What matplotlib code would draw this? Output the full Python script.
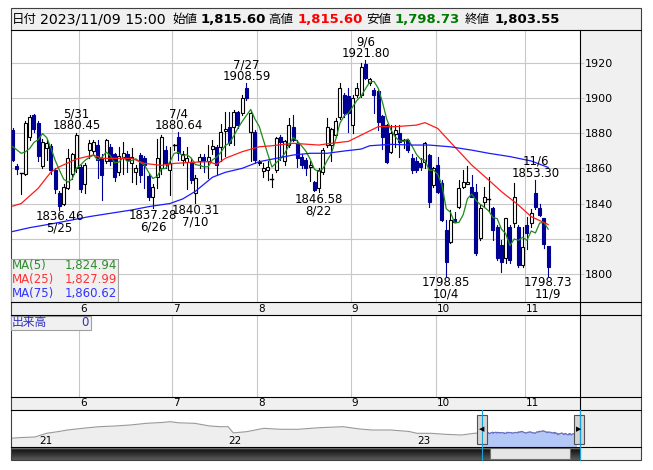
import numpy as np
import pandas as pd
import matplotlib
matplotlib.use("Agg")
import matplotlib.pyplot as plt
from matplotlib.patches import Rectangle

plt.rcParams['font.family'] = ['DejaVu Sans', 'Noto Sans CJK JP']

W, H = 653, 470

# trading days shown in the window (Tokyo calendar)
holidays = ['2023-07-17', '2023-08-11', '2023-09-18', '2023-10-09', '2023-11-03']
dates = pd.bdate_range('2023-05-10', '2023-11-09', freq='C', holidays=holidays)

opens = [1882, 1861.5, 1857, 1857, 1878, 1890.5, 1886, 1861.5, 1871.5, 1873,
         1859, 1846, 1840, 1849, 1857, 1860, 1861, 1851, 1870.5, 1870,
         1873.5, 1866, 1864, 1872, 1868, 1858, 1866.7, 1868, 1862.9, 1858,
         1867.7, 1865.8, 1855.5, 1843.9, 1855, 1860, 1870.5, 1859, 1873, 1878.2,
         1865, 1863.5, 1863.9, 1846, 1864, 1866.7, 1864, 1871, 1872.4, 1872.4,
         1881.6, 1883.9, 1883.9, 1892.5, 1891.5, 1905.8, 1881, 1881, 1863.3, 1858.5,
         1859, 1853.4, 1859.3, 1878.2, 1864, 1873.4, 1883.9, 1874.4, 1866.8, 1865,
         1861, 1852.4, 1848.7, 1858.1, 1873.4, 1873.7, 1879.4, 1889.6, 1902, 1901.3,
         1884.9, 1902, 1902, 1919.5, 1908.7, 1904.8, 1904, 1890, 1884.8, 1869.6,
         1879.5, 1880, 1876.3, 1876.3, 1865.8, 1864, 1863, 1863.9, 1867.7, 1850.6,
         1862, 1851.5, 1824.9, 1818.2, 1831, 1838.2, 1849.6, 1851, 1849.6, 1846.8,
         1820.1, 1841, 1842, 1837.2, 1826.7, 1816.2, 1808.7, 1826.7, 1828.7, 1826.7,
         1804.9, 1827.7, 1829, 1845.8, 1837.2, 1831.5, 1815.6]
highs = [1883, 1862.5, 1857.5, 1887, 1890.3, 1891, 1887, 1877, 1876.3, 1874,
         1860, 1847, 1851, 1871, 1869, 1880.45, 1862, 1863, 1876, 1876.5,
         1876.3, 1868, 1877, 1874, 1869, 1872, 1875, 1870, 1871.5, 1862,
         1869, 1867, 1857, 1851, 1877, 1879, 1873, 1872, 1874, 1880.64,
         1870, 1872, 1866, 1856.3, 1868.5, 1868, 1873.5, 1876, 1873.4, 1885.7,
         1892, 1892.5, 1893.5, 1893, 1902, 1908.59, 1893, 1882, 1865, 1863,
         1864, 1857, 1878, 1879, 1876, 1888.6, 1890.5, 1876, 1868, 1866,
         1864, 1853, 1860, 1871.5, 1888.6, 1883, 1889, 1909, 1903, 1905.8,
         1901.9, 1908.7, 1920, 1921.8, 1911.5, 1905.8, 1905, 1890.5, 1885.7, 1884.8,
         1884.8, 1884.8, 1877, 1877, 1868, 1866.7, 1865.8, 1875.3, 1868.5, 1861,
         1866.7, 1853.4, 1830.6, 1836.3, 1835, 1853.4, 1859, 1861.5, 1856, 1851,
         1839, 1849.6, 1855.3, 1838, 1828, 1819, 1831.5, 1827.5, 1851.5, 1827.5,
         1826.7, 1832.5, 1837, 1853.3, 1840, 1832, 1815.6]
lows = [1864, 1857, 1845.3, 1856, 1876, 1881, 1864.5, 1860, 1864.9, 1857,
        1846, 1836.46, 1839, 1848, 1854, 1858, 1846.8, 1846, 1866, 1868,
        1854.4, 1842, 1863, 1862, 1853, 1856, 1857, 1858, 1852.5, 1851,
        1852, 1848.6, 1842, 1837.28, 1849, 1857, 1860, 1845, 1870.5, 1865,
        1862, 1848, 1851.5, 1840.31, 1860, 1858, 1854.5, 1868, 1856.7, 1864,
        1867, 1873.4, 1873.4, 1883, 1890.5, 1899, 1864, 1863, 1862, 1855,
        1853.6, 1849.5, 1858, 1865, 1862, 1872.5, 1875.5, 1861, 1860, 1856,
        1853, 1847, 1846.58, 1857, 1872.4, 1864, 1878, 1888.5, 1889.6, 1881,
        1880, 1900.9, 1901, 1911, 1907.5, 1891.5, 1882, 1871, 1863, 1868.8,
        1872, 1866.5, 1871.5, 1869.5, 1857.2, 1858.2, 1859.1, 1860.1, 1838.2, 1849.6,
        1845.8, 1830, 1798.85, 1817.2, 1829.5, 1837.2, 1848.7, 1851, 1843.9, 1810.5,
        1819.2, 1838.2, 1835.5, 1819, 1807.5, 1800.9, 1805.8, 1806, 1826.7, 1803.8,
        1803.8, 1814, 1826.7, 1837, 1833, 1814.4, 1798.73]
closes = [1865, 1859.5, 1857.3, 1886, 1889.3, 1882.5, 1867, 1875, 1874.4, 1859,
          1848, 1838.5, 1849.5, 1866, 1868, 1879, 1848, 1862, 1874.5, 1875,
          1865, 1856, 1876.3, 1864, 1855, 1867, 1869, 1865, 1866.8, 1860,
          1856.3, 1862, 1843.5, 1849.6, 1866, 1878, 1863, 1863, 1873.3, 1868.7,
          1868.5, 1866, 1853.4, 1854.4, 1866.7, 1864, 1866.7, 1873, 1862, 1881,
          1882.7, 1874.4, 1892.5, 1884.8, 1900, 1900, 1891.5, 1865, 1863.9, 1860.5,
          1861, 1853.8, 1877.2, 1875.3, 1875.5, 1884.8, 1876.3, 1865.8, 1862, 1860.3,
          1862, 1847.7, 1859.1, 1870.5, 1883.9, 1882.3, 1887, 1905.8, 1891.5, 1891.8,
          1900, 1905.8, 1918.2, 1911.9, 1910.9, 1902, 1886.5, 1878, 1863.9, 1880,
          1881.9, 1875.3, 1876.5, 1870.6, 1859.1, 1859.1, 1861, 1874.4, 1841, 1860.1,
          1846.8, 1830.6, 1806.8, 1830.6, 1829.5, 1848.7, 1852.4, 1852.5, 1843.9, 1811.5,
          1837.2, 1843.9, 1842.3, 1824.9, 1808.6, 1806.8, 1831.5, 1807.7, 1843.9, 1804.9,
          1815.3, 1823, 1834.4, 1838.2, 1833.4, 1817, 1803.55]
# closes of the four sessions before the window (needed for MA(5))
pre_closes = [1869, 1867, 1881.5, 1880]

# MA(25) and MA(75) at sample sessions
ma25_idx = [0, 2, 6, 9, 11, 15, 19, 21, 24, 28, 31, 35, 38, 42, 46, 48, 50, 54, 58,
            61, 66, 72, 75, 79, 82, 86, 90, 95, 97, 100, 104, 108, 112, 115, 119, 122, 126]
ma25_val = [1838.5, 1840.0, 1848.7, 1858.0, 1861.0, 1865.4, 1867.7, 1865.8, 1865.8, 1865.8,
            1862.9, 1861.8, 1862.9, 1863.5, 1863.9, 1862.4, 1865.8, 1869.6, 1872.4,
            1873.0, 1874.4, 1873.4, 1874.4, 1875.5, 1879.1, 1883.9, 1883.9, 1884.8, 1886.2,
            1882.9, 1872.4, 1862.0, 1853.4, 1846.8, 1839.1, 1832.5, 1827.99]
ma75_idx = [0, 4, 9, 14, 18, 23, 28, 32, 37, 40, 43, 47, 50, 54, 58, 62, 66, 70, 74,
            78, 82, 84, 89, 94, 98, 103, 108, 112, 117, 122, 126]
ma75_val = [1824.0, 1826.2, 1828.3, 1830.6, 1832.5, 1834.4, 1836.3, 1838.2, 1840.0, 1842.6,
            1847.0, 1855.0, 1857.8, 1860.1, 1863.9, 1865.8, 1867.7, 1868.7, 1868.7,
            1870.0, 1871.1, 1873.0, 1873.8, 1873.4, 1873.4, 1872.4, 1870.5, 1868.7, 1866.8,
            1864.3, 1860.62]

# peak / trough markers
mark_dates = ['2023-05-25', '2023-05-31', '2023-06-26', '2023-07-04', '2023-07-10', '2023-07-27',
              '2023-08-22', '2023-09-06', '2023-10-04', '2023-11-06', '2023-11-09']
mark_vals = [1836.46, 1880.45, 1837.28, 1880.64, 1840.31, 1908.59,
             1846.58, 1921.80, 1798.85, 1853.30, 1798.73]
mark_kind = ['low', 'high', 'low', 'high', 'low', 'high', 'low', 'high', 'low', 'high', 'low']

# long-range line in the navigator (samples before the window)
nav_dates = ['2020-11-10', '2020-12-01', '2020-12-28', '2021-01-20', '2021-02-10', '2021-03-01',
             '2021-04-01', '2021-05-01', '2021-06-01', '2021-07-01', '2021-08-01', '2021-09-01',
             '2021-09-15', '2021-10-01', '2021-11-01', '2021-12-01', '2021-12-20', '2022-01-05',
             '2022-01-15', '2022-02-10', '2022-03-15', '2022-04-15', '2022-05-20', '2022-07-01',
             '2022-08-15', '2022-09-15', '2022-10-10', '2022-11-15', '2022-12-20', '2023-01-05',
             '2023-02-01', '2023-03-01', '2023-04-01', '2023-04-25', '2023-05-09']
nav_vals = [1709, 1730, 1746, 1850, 1893, 1940, 1990, 2032, 2051, 2080, 2126, 2150,
            2171, 2140, 2126, 2051, 2032, 2032, 1860, 1893, 1987, 1960, 1959, 2004,
            2032, 1970, 1940, 1940, 1900, 1848, 1848, 1820, 1801, 1848, 1860]

yticks = [1800, 1820, 1840, 1860, 1880, 1900, 1920]
ma_last = {'MA(5)': 1824.94, 'MA(25)': 1827.99, 'MA(75)': 1860.62}

DOWN = '#000094'
GRID = '#c8c8c8'
GRAY = '#f0f0f0'


def px_ax(x0, y0, x1, y1, **kw):
    return fig.add_axes([x0 / W, 1 - y1 / H, (x1 - x0) / W, (y1 - y0) / H], **kw)


def bare(a):
    a.set_xticks([])
    a.set_yticks([])
    for s in a.spines.values():
        s.set_visible(False)


fig = plt.figure(figsize=(W / 100, H / 100), dpi=100)
L, R, PR = 10.5, 640.5, 579.5
X0, STEP = 12.7, 4.25

# background / frame in pixel units
bg = px_ax(0, 0, W, H)
bg.set_xlim(0, W)
bg.set_ylim(H, 0)
bg.axis('off')
bg.add_patch(Rectangle((L, 8), R - L, 452, facecolor=GRAY, edgecolor='none'))

# header
hy = 19.5
head = [(12, '日付', 'black', 'normal', 9), (40, '2023/11/09 15:00', 'black', 'normal', 10.2),
        (172, '始値', 'black', 'normal', 9), (201, '1,815.60', 'black', 'bold', 9.5),
        (268, '高値', 'black', 'normal', 9), (298, '1,815.60', '#ff0000', 'bold', 9.5),
        (366, '安値', 'black', 'normal', 9), (395, '1,798.73', '#007a00', 'bold', 9.5),
        (465, '終値', 'black', 'normal', 9), (495, '1,803.55', 'black', 'bold', 9.5)]
for x, s, c, w, fs in head:
    bg.text(x, hy, s, color=c, fontweight=w, fontsize=fs, va='center', ha='left')

# main price panel
ax = px_ax(L, 30, PR, 302)
xl = (-(X0 - L) / STEP, (PR - X0) / STEP)
ax.set_xlim(*xl)
ax.set_ylim(1800 - (302 - 273.5) / 1.75, 1800 + (273.5 - 30) / 1.75)
for s in ax.spines.values():
    s.set_visible(False)
ax.set_yticks(yticks)
ax.yaxis.tick_right()
ax.tick_params(axis='y', length=3, color=GRID, pad=1, labelsize=8)
ax.set_xticks([])
for y in yticks:
    ax.axhline(y, color=GRID, lw=0.8, zorder=0)

month_first = [i for i in range(1, len(dates)) if dates[i].month != dates[i - 1].month]
for i in month_first:
    ax.axvline(i - 0.5, color=GRID, lw=0.8, zorder=0)

n = len(dates)
idx = np.arange(n)
bw = 0.72
for i in range(n):
    o, h, l, c = opens[i], highs[i], lows[i], closes[i]
    up = c >= o
    col = 'black' if up else DOWN
    ax.plot([i, i], [l, h], color=col, lw=0.8, zorder=2)
    body = abs(c - o)
    if body < 0.4:
        ax.plot([i - bw / 2, i + bw / 2], [c, c], color='black', lw=1.0, zorder=3)
    else:
        ax.add_patch(Rectangle((i - bw / 2, min(o, c)), bw, body,
                               facecolor='white' if up else DOWN, edgecolor=col, lw=0.8, zorder=3))

cl = pd.Series(pre_closes + closes)
ma5 = cl.rolling(5).mean().values[len(pre_closes):]
ax.plot(idx, ma5, color='#1e8a1e', lw=0.9, zorder=4)
ax.plot(ma25_idx, ma25_val, color='#ff1a1a', lw=0.9, zorder=4)
ax.plot(ma75_idx, ma75_val, color='#1a1aff', lw=0.9, zorder=4)

date_pos = {d.strftime('%Y-%m-%d'): k for k, d in enumerate(dates)}
for d, v, kind in zip(mark_dates, mark_vals, mark_kind):
    k = date_pos[d]
    lab = f"{dates[k].month}/{dates[k].day}"
    sgn = 1 if kind == 'high' else -1
    ax.annotate(f"{v:.2f}", (k, v), xytext=(0, sgn * 5.2), textcoords='offset points',
                ha='center', va='center', fontsize=8.5, zorder=6)
    ax.annotate(lab, (k, v), xytext=(0, sgn * 13.5), textcoords='offset points',
                ha='center', va='center', fontsize=8.5, zorder=6)

# volume panel (empty)
vax = px_ax(L, 315, PR, 397)
vax.set_xlim(*xl)
vax.set_ylim(0, 1)
bare(vax)
for i in month_first:
    vax.axvline(i - 0.5, color=GRID, lw=0.8)

# navigator
nax = px_ax(L, 410, PR, 447)
t0 = pd.Timestamp('2023-01-01')
ppd = 189 / 365.0
nx_lo = -(415 - L) / ppd
nx_hi = (PR - 415) / ppd
nax.set_xlim(nx_lo, nx_hi)
nax.set_ylim(1468, 2495)
bare(nax)
nax.set_facecolor('white')
nd = np.array([(pd.Timestamp(d) - t0).days for d in nav_dates] + [(d - t0).days for d in dates])
nv = np.array(nav_vals + closes)
nax.fill_between(nd, nv, 1468, color='#eeeeee', lw=0)
nax.plot(nd, nv, color='#999999', lw=0.8)
sel = nd >= (dates[0] - t0).days
nax.fill_between(nd[sel], nv[sel], 1468, color='#b4c8f8', lw=0)
nax.plot(nd[sel], nv[sel], color='#6a70c8', lw=0.8)
for yr in ['2021', '2022', '2023']:
    dx = (pd.Timestamp(yr + '-01-01') - t0).days
    nax.text(dx + 4, 1500, yr[2:], fontsize=7.5, va='bottom', ha='left')

# scrollbar
sax = px_ax(L, 447, PR, 460)
grad = np.concatenate([np.linspace(0.45, 1.0, 6), np.linspace(1.0, 0.8, 19)]).reshape(-1, 1)
sax.imshow(grad, aspect='auto', cmap='Greys', vmin=0, vmax=1.1, extent=[0, 1, 0, 1])
sax.set_xlim(0, 1)
sax.set_ylim(0, 1)
sax.axis('off')

# overlay: frame lines, boxes, handles
top = px_ax(0, 0, W, H)
top.set_xlim(0, W)
top.set_ylim(H, 0)
top.axis('off')
top.patch.set_alpha(0)
for y in [30, 302, 315, 397, 410, 447]:
    top.plot([L, R], [y, y], color='black', lw=0.8)
top.add_patch(Rectangle((L, 8), R - L, 452, facecolor='none', edgecolor='#404040', lw=0.8))
top.plot([PR, PR], [30, 460], color='black', lw=0.8)

# MA legend box
top.add_patch(Rectangle((L, 259), 107.5, 42.5, facecolor=GRAY, edgecolor='#a0a0a0', lw=0.8))
for (name, val), c, y in zip(ma_last.items(), ['#2e8b2e', '#ff3333', '#3333ff'], [266, 280, 293.5]):
    top.text(12, y, name, color=c, fontsize=8.5, va='center', ha='left')
    top.text(117, y, f"{val:,.2f}", color=c, fontsize=8.5, va='center', ha='right')

# month labels in the two bands
for i in month_first:
    xp = X0 + (i - 0.5) * STEP + 1.3
    for yb in [308.5, 403.5]:
        top.text(xp, yb, str(dates[i].month), fontsize=7.5, va='center', ha='left')

# volume label
top.add_patch(Rectangle((L, 315.5), 80, 14, facecolor=GRAY, edgecolor='#a0a0a0', lw=0.8))
top.text(12, 322.5, '出来高', color='#3030c0', fontsize=8.5, va='center', ha='left')
top.text(89, 322.5, '0', color='#3030c0', fontsize=8.5, va='center', ha='right')

# window handles on the navigator
xs_px = 415 + (dates[0] - t0).days * ppd
for xv in [xs_px, PR]:
    top.plot([xv, xv], [410, 460], color='#1aa0d8', lw=0.8)
for xc, tri in [(xs_px, '◀'), (PR - 1, '▶')]:
    top.add_patch(Rectangle((xc - 5, 415), 10, 29, facecolor='#d4d4d4', edgecolor='#505050', lw=0.8))
    top.text(xc, 429.5, tri, fontsize=5, ha='center', va='center')
# scroll thumb
top.add_patch(Rectangle((490, 448), 80, 11, facecolor='#e6e6e6', edgecolor='#707070', lw=0.8))

fig.savefig('out.png', dpi=100)
